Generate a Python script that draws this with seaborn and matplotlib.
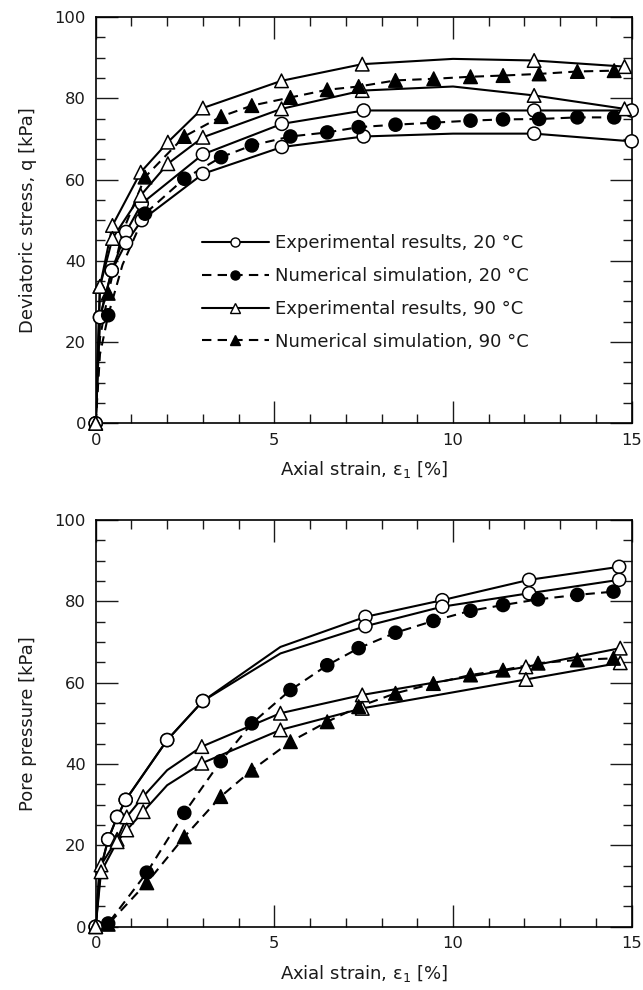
#!/usr/bin/env python3
"""Triaxial test at 20 and 90 C: deviatoric stress and pore pressure
against axial strain, experiments (two tests each) vs. simulation.

Writes: out.png
"""

import matplotlib
matplotlib.use("Agg")
import matplotlib.lines as mlines
import matplotlib.pyplot as plt
import numpy as np
import pandas as pd
import seaborn as sns
from matplotlib.ticker import MultipleLocator

# ---- top panel: deviatoric stress q [kPa] -------------------------------
Q_EXP20_X = [0, 0.12, 0.45, 0.85, 1.29, 3.0, 5.21, 7.5, 10.0, 12.27, 15.0]
Q_EXP20_A = [0, 26.1, 37.6, 47.1, 54.1, 66.2, 73.7, 77.0, 77.0, 77.0, 77.0]
Q_EXP20_B = [0, 26.1, 37.6, 44.4, 50.0, 61.4, 68.0, 70.6, 71.3, 71.3, 69.4]

Q_EXP90_X = [0, 0.12, 0.47, 1.26, 2.02, 3.0, 5.2, 7.46, 10.0, 12.27, 14.8]
Q_EXP90_A = [0, 33.7, 48.7, 61.8, 69.2, 77.6, 84.3, 88.4, 89.7, 89.3, 87.8]
Q_EXP90_B = [0, 33.7, 45.5, 56.1, 63.9, 70.4, 77.4, 81.9, 82.9, 80.7, 77.4]
Q_EXP_NOMARK = [10.0]

Q_NUM_X = [0, 0.12, 0.35, 0.75, 1.38, 2.48, 3.51, 4.37, 5.45, 6.48, 7.36,
           8.39, 9.46, 10.49, 11.4, 12.41, 13.48, 14.51]
Q_NUM20 = [0, 17.0, 26.6, 39.0, 51.6, 60.2, 65.5, 68.4, 70.6, 71.6, 72.9,
           73.5, 74.0, 74.5, 74.8, 74.9, 75.3, 75.3]
Q_NUM90 = [0, 21.0, 32.0, 47.0, 60.6, 70.6, 75.5, 78.2, 80.2, 82.1, 82.9,
           84.4, 84.8, 85.3, 85.6, 86.0, 86.6, 86.8]
Q_NUM_NOMARK = [0, 0.12, 0.75]

# ---- bottom panel: pore pressure [kPa] ----------------------------------
U_EXP20_X = [0, 0.1, 0.35, 0.6, 0.84, 2.0, 3.0, 5.17, 7.55, 9.7, 12.13, 14.65]
U_EXP20_A = [0, 13.0, 21.5, 27.0, 31.2, 45.9, 55.5, 68.8, 76.2, 80.3, 85.3, 88.5]
U_EXP20_B = [0, 13.0, 21.5, 27.0, 31.2, 45.9, 55.5, 67.2, 73.9, 78.7, 82.0, 85.3]
U_EXP20_NOMARK = [0.1, 5.17]

U_EXP90_X = [0, 0.15, 0.6, 0.87, 1.33, 2.0, 2.97, 5.17, 7.46, 12.04, 14.68]
U_EXP90_A = [0, 15.2, 21.5, 27.0, 32.0, 38.5, 44.3, 52.5, 57.0, 63.9, 68.5]
U_EXP90_B = [0, 13.5, 20.9, 23.8, 28.3, 34.8, 40.2, 48.4, 53.7, 60.8, 64.9]
U_EXP90_NOMARK = [2.0]

U_NUM_X = [0, 0.35, 1.43, 2.48, 3.5, 4.37, 5.45, 6.48, 7.36, 8.39, 9.45,
           10.49, 11.4, 12.38, 13.48, 14.49]
U_NUM20 = [0, 0.8, 13.3, 28.0, 40.7, 50.0, 58.2, 64.3, 68.5, 72.3, 75.2,
           77.7, 79.1, 80.5, 81.6, 82.4]
U_NUM90 = [0, 0.6, 10.8, 22.1, 32.0, 38.5, 45.5, 50.4, 54.1, 57.4, 59.8,
           61.9, 63.1, 64.8, 65.6, 66.0]
U_NUM_NOMARK = [0]

LEGEND_LABELS = [
    "Experimental results, 20 °C",
    "Numerical simulation, 20 °C",
    "Experimental results, 90 °C",
    "Numerical simulation, 90 °C",
]
XLABEL = "Axial strain, ε$_1$ [%]"
YLABELS = ["Deviatoric stress, q [kPa]", "Pore pressure [kPa]"]

DASH = (4.5, 3)
LW = 1.5
MS = 88  # scatter size, pt^2
TICK_FS = 11.8
LABEL_FS = 13


def build(curves):
    """curves: list of (name, kind, temp, x, y, nomark) -> long frame."""
    frames = []
    for name, kind, temp, x, y, nomark in curves:
        x = np.asarray(x, float)
        frames.append(pd.DataFrame({
            "strain": x, "value": np.asarray(y, float), "curve": name,
            "kind": kind, "temp": temp,
            "marked": ~np.isin(x, nomark),
        }))
    return pd.concat(frames, ignore_index=True)


def draw_panel(ax, df, ylabel):
    sns.lineplot(
        data=df, x="strain", y="value", units="curve",
        style="kind", dashes={"exp": "", "num": DASH},
        estimator=None, sort=False, color="black", linewidth=LW,
        legend=False, ax=ax,
    )
    marked = df[df["marked"]]
    for temp, marker, size in (("20", "o", MS), ("90", "^", MS * 1.08)):
        sub = marked[marked["temp"] == temp]
        sns.scatterplot(
            data=sub, x="strain", y="value", hue="kind",
            palette={"exp": "white", "num": "black"},
            marker=marker, s=size, edgecolor="black", linewidth=1.1,
            legend=False, zorder=3, ax=ax,
        )
    for coll in ax.collections:
        coll.set_clip_on(False)

    ax.set_xlim(0, 15)
    ax.set_ylim(0, 100)
    ax.xaxis.set_major_locator(MultipleLocator(5))
    ax.xaxis.set_minor_locator(MultipleLocator(1))
    ax.yaxis.set_major_locator(MultipleLocator(20))
    ax.yaxis.set_minor_locator(MultipleLocator(5))
    ax.tick_params(which="both", direction="in", top=True, right=True,
                   width=1.0, colors="#1a1a1a", labelsize=TICK_FS, pad=7)
    ax.tick_params(which="major", length=16)
    ax.tick_params(which="minor", length=6.5)
    for sp in ax.spines.values():
        sp.set_linewidth(1.2)
        sp.set_color("black")
    ax.set_xlabel(XLABEL, fontsize=LABEL_FS, labelpad=8, color="#1a1a1a")
    ax.set_ylabel(ylabel, fontsize=LABEL_FS, labelpad=13, color="#1a1a1a")


def main() -> None:
    sns.set_theme(style="ticks")
    plt.rcParams["font.family"] = ["DejaVu Sans"]
    plt.rcParams["mathtext.fontset"] = "dejavusans"

    top = build([
        ("e20a", "exp", "20", Q_EXP20_X, Q_EXP20_A, Q_EXP_NOMARK),
        ("e20b", "exp", "20", Q_EXP20_X, Q_EXP20_B, Q_EXP_NOMARK),
        ("e90a", "exp", "90", Q_EXP90_X, Q_EXP90_A, Q_EXP_NOMARK),
        ("e90b", "exp", "90", Q_EXP90_X, Q_EXP90_B, Q_EXP_NOMARK),
        ("n20", "num", "20", Q_NUM_X, Q_NUM20, Q_NUM_NOMARK),
        ("n90", "num", "90", Q_NUM_X, Q_NUM90, Q_NUM_NOMARK),
    ])
    bottom = build([
        ("e20a", "exp", "20", U_EXP20_X, U_EXP20_A, U_EXP20_NOMARK),
        ("e20b", "exp", "20", U_EXP20_X, U_EXP20_B, U_EXP20_NOMARK),
        ("e90a", "exp", "90", U_EXP90_X, U_EXP90_A, U_EXP90_NOMARK),
        ("e90b", "exp", "90", U_EXP90_X, U_EXP90_B, U_EXP90_NOMARK),
        ("n20", "num", "20", U_NUM_X, U_NUM20, U_NUM_NOMARK),
        ("n90", "num", "90", U_NUM_X, U_NUM90, U_NUM_NOMARK),
    ])

    fig = plt.figure(figsize=(6.43, 9.9), dpi=100)
    ax1 = fig.add_axes([0.1488, 0.5724, 0.8336, 0.4104])
    ax2 = fig.add_axes([0.1488, 0.0639, 0.8336, 0.4108])

    draw_panel(ax1, top, YLABELS[0])
    draw_panel(ax2, bottom, YLABELS[1])

    styles = [("-", "o", "white"), ((0, DASH), "o", "black"),
              ("-", "^", "white"), ((0, DASH), "^", "black")]
    handles = [
        mlines.Line2D([], [], color="black", linestyle=ls, linewidth=LW,
                      marker=mk, markersize=6.5, markerfacecolor=fc,
                      markeredgecolor="black", markeredgewidth=1.0,
                      label=lab)
        for (ls, mk, fc), lab in zip(styles, LEGEND_LABELS)
    ]
    leg = ax1.legend(
        handles=handles, loc="center left", bbox_to_anchor=(0.168, 0.322),
        frameon=False, fontsize=LABEL_FS, handlelength=3.7,
        handletextpad=0.35, labelspacing=0.82, borderpad=0.4,
    )
    for txt in leg.get_texts():
        txt.set_color("#1a1a1a")

    fig.savefig("out.png", dpi=100)
    plt.close(fig)


if __name__ == "__main__":
    main()
